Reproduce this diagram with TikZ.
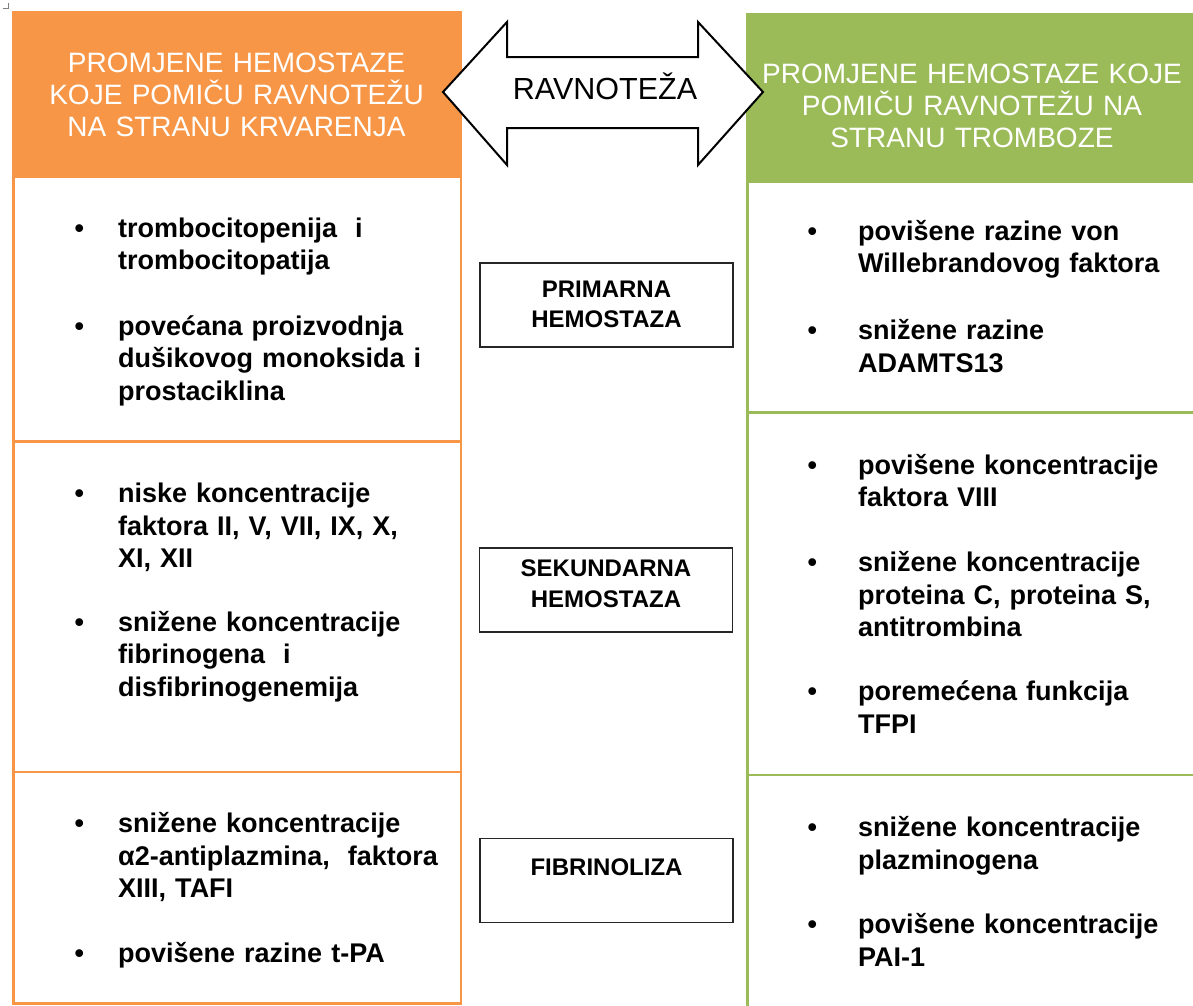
\documentclass[tikz,border=0pt]{standalone}
\usepackage{fontspec}
\setmainfont{Liberation Sans}
\definecolor{hOrange}{HTML}{F79646}
\definecolor{hGreen}{HTML}{9BBB59}
\newcommand\bulL{\llap{\makebox[43.7pt][l]{•}}}
\newcommand\bulR{\llap{\makebox[50.7pt][l]{•}}}
\begin{document}
\begin{tikzpicture}[x=1pt,y=-1pt,
  headtxt/.style={text=white, align=center, text width=440pt, inner sep=0pt, anchor=base, font=\fontsize{28}{32}\selectfont},
  itemtxt/.style={anchor=base west, inner sep=0pt, text width=345pt, align=left, font=\fontsize{27}{32.5}\selectfont\bfseries},
  midbox/.style={draw=black!85, line width=1.3pt, minimum width=253pt, minimum height=84pt, inner sep=0pt, fill=white},
  midtxt/.style={anchor=base, inner sep=0pt, text width=250pt, align=center, font=\fontsize{24}{30.5}\selectfont\bfseries},
  lbox/.style={draw=hOrange, line width=2.5pt},
  rbox/.style={draw=hGreen, line width=2.5pt}]
\useasboundingbox (0,0) rectangle (1193,1005);
\clip (0,0) rectangle (1193,1005);
\fill[white] (0,0) rectangle (1193,1005);
% corner mark
\draw[gray, line width=0.8pt] (3,8) -- (8,8) -- (8,3);
% left column
\fill[hOrange] (12,11) rectangle (462,177);
\draw[lbox] (13.25,177) rectangle (460.75,441.5);
\draw[lbox] (13.25,441.5) rectangle (460.75,772);
\draw[lbox] (13.25,772) rectangle (460.75,1003.5);
% right column
\fill[hGreen] (746,13) rectangle (1200,181.5);
\draw[rbox] (747.5,181.5) rectangle (1200,412.5);
\draw[rbox] (747.5,412.5) rectangle (1200,775);
\draw[rbox] (747.5,775) rectangle (1200,1020);
% headers
\node[headtxt] (lhead) at (236.5,72.7) {PROMJENE HEMOSTAZE\\KOJE POMIČU RAVNOTEŽU\\NA STRANU KRVARENJA};
\node[headtxt] (rhead) at (972,83.3) {PROMJENE HEMOSTAZE KOJE\\POMIČU RAVNOTEŽU NA\\STRANU TROMBOZE};
% balance arrow
\draw[line width=2pt, fill=white, line join=miter] (443,92) -- (507,22) -- (507,57) -- (698,57) -- (698,22) -- (763,92) -- (698,165) -- (698,128) -- (507,128) -- (507,165) -- cycle;
\node[anchor=base, inner sep=0pt, font=\fontsize{30.5}{34}\selectfont] (ravn) at (605,99) {RAVNOTEŽA};
% middle boxes
\node[midbox] (prim) at (606.5,305) {};
\node[midtxt] (primt) at (606.5,297) {PRIMARNA\\HEMOSTAZA};
\node[midbox] (sek) at (606,590) {};
\node[midtxt] (sekt) at (606,576.7) {SEKUNDARNA\\HEMOSTAZA};
\node[midbox] (fib) at (606.5,880.5) {};
\node[midtxt] (fibt) at (606.5,875) {FIBRINOLIZA};
% left items
\node[itemtxt] (l1a) at (118,237.3) {\bulL trombocitopenija\ \ i\\trombocitopatija};
\node[itemtxt] (l1b) at (118,335.4) {\bulL povećana proizvodnja\\dušikovog\ monoksida\ i\\prostaciklina};
\node[itemtxt] (l2a) at (118,502.5) {\bulL niske koncentracije\\faktora II, V, VII, IX, X,\\XI, XII};
\node[itemtxt] (l2b) at (118,631) {\bulL snižene koncentracije\\fibrinogena\ \ i\\disfibrinogenemija};
\node[itemtxt] (l3a) at (118,832.5) {\bulL snižene koncentracije\\α2-antiplazmina,\ \ faktora\\XIII, TAFI};
\node[itemtxt] (l3b) at (118,962) {\bulL povišene razine t-PA};
% right items
\node[itemtxt] (r1a) at (858,240) {\bulR povišene razine von\\Willebrandovog faktora};
\node[itemtxt] (r1b) at (858,339.5) {\bulR snižene razine\\ADAMTS13};
\node[itemtxt] (r2a) at (858,474) {\bulR povišene koncentracije\\faktora VIII};
\node[itemtxt] (r2b) at (858,571.5) {\bulR snižene koncentracije\\proteina C, proteina S,\\antitrombina};
\node[itemtxt] (r2c) at (858,700.5) {\bulR poremećena funkcija\\TFPI};
\node[itemtxt] (r3a) at (858,836.5) {\bulR snižene koncentracije\\plazminogena};
\node[itemtxt] (r3b) at (858,933.5) {\bulR povišene koncentracije\\PAI-1};
\end{tikzpicture}
\end{document}
